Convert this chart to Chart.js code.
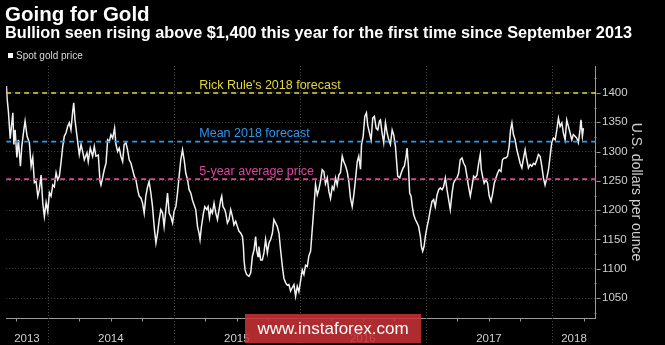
<!DOCTYPE html>
<html>
<head>
<meta charset="utf-8">
<script src="https://cdn.jsdelivr.net/npm/chart.js@4"></script>
<style>
  html, body { margin:0; padding:0; background:#000; }
  #wrap { position:relative; width:665px; height:345px; overflow:hidden; background:#000; }
  canvas { position:absolute; left:0; top:0; }
  #wm { position:absolute; left:245px; top:314px; width:176px; height:29px;
        background:rgba(200,50,55,0.87); color:#fff; font:17px "Liberation Sans", Arial, sans-serif;
        display:flex; align-items:center; justify-content:center; }
</style>
</head>
<body>
<div id="wrap">
  <canvas id="c" width="665" height="345"></canvas>
  <div id="wm">www.instaforex.com</div>
</div>
<script>
// ---- DATA ----
const titleText = "Going for Gold";
const subtitleText = "Bullion seen rising above $1,400 this year for the first time since September 2013";
const seriesName = "Spot gold price";
const yAxisTitle = "U.S. dollars per ounce";

// dates as decimal years
const dates = [
2013.672,2013.678,2013.688,2013.702,2013.723,2013.731,2013.741,2013.755,2013.767,2013.783,2013.794,2013.810,2013.820,2013.836,2013.854,2013.868,2013.881,2013.894,2013.907,2013.921,2013.933,2013.947,2013.960,2013.973,2013.987,
2014.000,2014.013,2014.026,2014.040,2014.052,2014.066,2014.079,2014.092,2014.105,2014.119,2014.131,2014.145,2014.158,2014.171,2014.184,2014.198,2014.206,2014.216,2014.232,2014.250,2014.264,2014.277,2014.290,2014.311,2014.321,2014.337,2014.356,2014.369,2014.382,2014.401,2014.414,2014.422,2014.435,2014.448,2014.462,2014.475,2014.488,2014.501,2014.515,2014.530,2014.541,2014.554,2014.567,2014.580,2014.594,2014.606,2014.620,2014.633,2014.646,2014.660,2014.673,2014.686,2014.699,2014.713,2014.725,2014.739,2014.752,2014.765,2014.778,2014.792,2014.804,2014.818,2014.831,2014.844,2014.858,2014.871,2014.884,2014.897,2014.911,2014.923,2014.937,2014.950,2014.963,2014.976,2014.990,
2015.002,2015.016,2015.029,2015.042,2015.055,2015.069,2015.082,2015.095,2015.109,2015.121,2015.135,2015.148,2015.161,2015.174,2015.188,2015.200,2015.208,2015.219,2015.235,2015.246,2015.261,2015.272,2015.283,2015.293,2015.306,2015.319,2015.333,2015.346,2015.359,2015.372,2015.380,2015.390,2015.404,2015.412,2015.425,2015.438,2015.451,2015.465,2015.477,2015.491,2015.504,2015.517,2015.530,2015.544,2015.552,2015.557,2015.565,2015.578,2015.596,2015.610,2015.623,2015.636,2015.649,2015.657,2015.668,2015.675,2015.689,2015.702,2015.715,2015.728,2015.742,2015.755,2015.768,2015.782,2015.794,2015.808,2015.821,2015.834,2015.847,2015.861,2015.873,2015.887,2015.900,2015.913,2015.926,2015.940,2015.953,2015.966,2015.979,2015.992,
2016.006,2016.019,2016.032,2016.045,2016.059,2016.071,2016.085,2016.098,2016.111,2016.124,2016.138,2016.150,2016.164,2016.177,2016.190,2016.203,2016.217,2016.230,2016.243,2016.257,2016.269,2016.283,2016.296,2016.309,2016.322,2016.336,2016.348,2016.362,2016.375,2016.388,2016.401,2016.415,2016.428,2016.441,2016.455,2016.467,2016.481,2016.489,2016.502,2016.515,2016.528,2016.538,2016.552,2016.565,2016.578,2016.591,2016.605,2016.618,2016.631,2016.639,2016.652,2016.665,2016.679,2016.692,2016.705,2016.718,2016.732,2016.744,2016.758,2016.766,2016.776,2016.792,2016.803,2016.819,2016.829,2016.843,2016.850,2016.861,2016.871,2016.882,2016.892,2016.903,2016.916,2016.930,2016.942,2016.956,2016.964,2016.974,2016.985,2016.995,
2017.009,2017.021,2017.035,2017.048,2017.061,2017.074,2017.088,2017.101,2017.114,2017.128,2017.140,2017.154,2017.167,2017.180,2017.193,2017.207,2017.219,2017.233,2017.246,2017.259,2017.272,2017.286,2017.299,2017.312,2017.325,2017.338,2017.352,2017.365,2017.378,2017.391,2017.405,2017.417,2017.431,2017.439,2017.449,2017.462,2017.476,2017.489,2017.502,2017.516,2017.528,2017.542,2017.555,2017.568,2017.581,2017.595,2017.607,2017.621,2017.634,2017.647,2017.660,2017.671,2017.682,2017.694,2017.708,2017.721,2017.734,2017.747,2017.761,2017.774,2017.787,2017.800,2017.813,2017.827,2017.840,2017.853,2017.866,2017.880,2017.892,2017.906,2017.919,2017.932,2017.945,2017.959,2017.972,2017.985,2017.998,
2018.011,2018.025,2018.038,2018.051,2018.064,2018.078,2018.090,2018.104,2018.117,2018.130,2018.143,2018.157,2018.169,2018.183,2018.196,2018.209,2018.222,2018.230,2018.241,2018.249
];
const prices = [
1412,1389,1368,1322,1366,1312,1337,1290,1320,1275,1309,1337,1352,1326,1315,1275,1290,1247,1249,1224,1235,1260,1213,1189,1213,
1198,1230,1224,1243,1240,1264,1252,1258,1281,1309,1326,1332,1343,1349,1337,1369,1383,1354,1326,1295,1312,1300,1286,1298,1283,1306,1292,1309,1292,1294,1250,1243,1255,1269,1280,1320,1317,1329,1323,1340,1312,1300,1306,1292,1283,1312,1315,1303,1286,1280,1269,1258,1252,1235,1224,1221,1212,1195,1224,1240,1249,1229,1206,1172,1144,1161,1184,1201,1195,1172,1201,1229,1195,1189,1178,
1198,1206,1229,1258,1286,1303,1286,1263,1252,1235,1229,1217,1209,1201,1172,1161,1150,1172,1195,1206,1201,1206,1187,1201,1195,1212,1195,1184,1201,1218,1224,1206,1201,1195,1178,1184,1201,1189,1175,1181,1172,1164,1161,1155,1138,1115,1098,1090,1087,1093,1121,1132,1155,1132,1121,1138,1115,1115,1127,1150,1127,1144,1150,1161,1184,1178,1172,1161,1132,1104,1084,1076,1072,1073,1062,1068,1073,1053,1070,1061,
1080,1098,1090,1106,1104,1122,1130,1167,1203,1244,1226,1235,1250,1269,1266,1245,1255,1232,1220,1240,1235,1255,1243,1260,1264,1292,1283,1276,1266,1249,1221,1206,1226,1252,1283,1292,1270,1312,1326,1360,1366,1345,1332,1320,1357,1360,1340,1337,1352,1354,1332,1315,1349,1332,1320,1312,1337,1329,1309,1286,1258,1255,1263,1272,1275,1292,1306,1275,1229,1224,1206,1192,1184,1178,1172,1155,1138,1130,1138,1155,
1172,1184,1201,1215,1218,1206,1226,1235,1238,1235,1240,1255,1235,1218,1201,1229,1246,1252,1255,1263,1286,1289,1280,1275,1258,1240,1224,1240,1258,1255,1260,1278,1295,1269,1258,1246,1252,1246,1224,1215,1227,1246,1255,1263,1269,1266,1286,1289,1289,1292,1309,1337,1349,1329,1320,1303,1292,1280,1272,1289,1303,1286,1272,1278,1275,1280,1278,1286,1295,1292,1275,1255,1243,1255,1269,1292,1315,
1323,1320,1337,1357,1343,1349,1332,1320,1354,1343,1332,1320,1329,1326,1323,1315,1337,1354,1326,1340
];

// reference lines
const refLabels = ["Rick Rule's 2018 forecast", "Mean 2018 forecast", "5-year average price"];
const refValues = [1400, 1317, 1253];
const refColors = ["#e3d83c", "#2f97f2", "#e0449c"];

// axes
const xMin = 2013.670, xMax = 2018.349;
const years = [2013, 2014, 2015, 2016, 2017, 2018];
const yMin = 1016, yMax = 1446;
const yTicks = [1050, 1100, 1150, 1200, 1250, 1300, 1350, 1400];

// ---- CHART ----
const FONT = '"Liberation Sans", Arial, sans-serif';
const goldData = dates.map((d, i) => ({ x: d, y: prices[i] }));
const refSets = refValues.map((v, i) => ({
  label: refLabels[i],
  data: [{ x: xMin, y: v }, { x: xMax, y: v }],
  borderColor: refColors[i], borderWidth: 1.6, borderDash: [5, 4],
  pointRadius: 0, fill: false
}));
const yearBounds = years.slice(1);
const labelPos = years.map(y => (Math.max(y, xMin) + Math.min(y + 1, xMax)) / 2);

const decor = {
  id: 'decor',
  beforeDatasetsDraw(chart) {
    const { ctx, chartArea, scales: { x } } = chart;
    ctx.save();
    ctx.strokeStyle = '#4a4a4a';
    ctx.lineWidth = 1;
    ctx.setLineDash([1, 2]);
    yearBounds.forEach(yv => {
      const px = Math.round(x.getPixelForValue(yv)) + 0.5;
      ctx.beginPath(); ctx.moveTo(px, chartArea.top); ctx.lineTo(px, chart.height); ctx.stroke();
    });
    ctx.restore();
  },
  afterDraw(chart) {
    const { ctx, chartArea, scales: { x, y } } = chart;
    ctx.save();
    // titles
    ctx.fillStyle = '#ffffff';
    ctx.textBaseline = 'alphabetic';
    ctx.textAlign = 'left';
    ctx.font = 'bold 20.5px ' + FONT;
    ctx.fillText(titleText, 5, 21);
    ctx.font = 'bold 16.3px ' + FONT;
    ctx.fillText(subtitleText, 5, 38);
    // legend
    ctx.fillStyle = '#ffffff';
    ctx.fillRect(8, 53, 5, 5);
    ctx.fillStyle = '#d8d8d8';
    ctx.font = '10px ' + FONT;
    ctx.textBaseline = 'middle';
    ctx.fillText(seriesName, 16, 56);
    // reference labels
    ctx.font = '12.5px ' + FONT;
    ctx.textBaseline = 'bottom';
    refValues.forEach((v, i) => {
      ctx.fillStyle = refColors[i];
      ctx.fillText(refLabels[i], x.getPixelForValue(2015.202), y.getPixelForValue(v) - 1.5);
    });
    // y axis tick marks
    ctx.strokeStyle = '#9a9a9a';
    ctx.lineWidth = 1;
    const ax = Math.round(chartArea.right) + 0.5;
    yTicks.forEach(t => {
      const py = Math.round(y.getPixelForValue(t)) + 0.5;
      ctx.beginPath(); ctx.moveTo(ax, py); ctx.lineTo(ax + 4, py); ctx.stroke();
      const pm = Math.round(y.getPixelForValue(t + 25)) + 0.5;
      ctx.beginPath(); ctx.moveTo(ax - 2, pm); ctx.lineTo(ax, pm); ctx.stroke();
    });
    const pm0 = Math.round(y.getPixelForValue(1025)) + 0.5;
    ctx.beginPath(); ctx.moveTo(ax - 2, pm0); ctx.lineTo(ax, pm0); ctx.stroke();
    // x quarterly ticks
    const by = Math.round(chartArea.bottom) + 0.5;
    years.forEach(yr => [0.25, 0.5, 0.75].forEach(q => {
      const v = yr + q;
      if (v > xMin && v < xMax) {
        const px = Math.round(x.getPixelForValue(v)) + 0.5;
        ctx.beginPath(); ctx.moveTo(px, by); ctx.lineTo(px, by + 3); ctx.stroke();
      }
    }));
    ctx.restore();
  }
};

new Chart(document.getElementById('c'), {
  type: 'line',
  data: {
    datasets: [
      ...refSets,
      { label: seriesName, data: goldData, borderColor: '#f2f2f2', borderWidth: 1.5,
        pointRadius: 0, fill: false, tension: 0 }
    ]
  },
  options: {
    responsive: false,
    animation: false,
    layout: { padding: { left: 5, top: 66, right: 0, bottom: 0 } },
    plugins: { legend: { display: false }, title: { display: false }, tooltip: { enabled: false } },
    scales: {
      x: {
        type: 'linear', min: xMin, max: xMax, position: 'bottom',
        grid: { display: false, drawTicks: false },
        border: { display: true, color: '#9a9a9a', width: 1 },
        afterBuildTicks: s => { s.ticks = labelPos.map(v => ({ value: v })); },
        afterFit: s => { s.height = 27; },
        ticks: { color: '#cfcfcf', font: { family: FONT, size: 11.5 }, padding: 14,
                 autoSkip: false, maxRotation: 0, minRotation: 0,
                 callback: v => String(Math.floor(v)) }
      },
      y: {
        position: 'right', min: yMin, max: yMax,
        grid: { color: '#444444', lineWidth: 1, drawTicks: false },
        border: { display: true, color: '#9a9a9a', width: 1, dash: [1, 2] },
        afterBuildTicks: s => { s.ticks = yTicks.map(v => ({ value: v })); },
        afterFit: s => { s.width = 69; },
        ticks: { color: '#cfcfcf', font: { family: FONT, size: 11.5 }, padding: 6,
                 callback: v => String(v) },
        title: { display: true, text: yAxisTitle, color: '#cfcfcf',
                 font: { family: FONT, size: 14 }, padding: { top: 20.5, bottom: 0 } }
      }
    }
  },
  plugins: [decor]
});
</script>
</body>
</html>
